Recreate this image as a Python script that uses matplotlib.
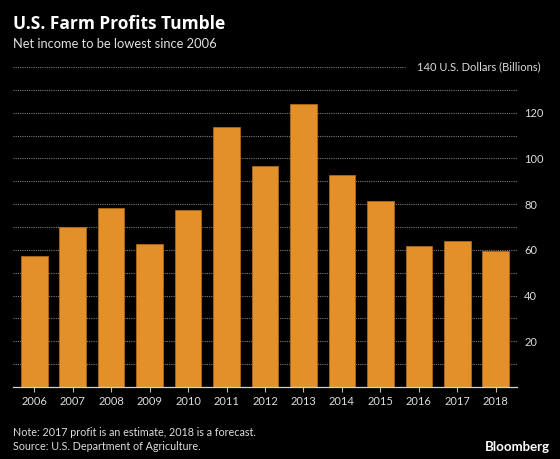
import matplotlib.pyplot as plt

years = ['2006', '2007', '2008', '2009', '2010', '2011', '2012',
         '2013', '2014', '2015', '2016', '2017', '2018']
income = [57.4, 70.0, 78.2, 62.5, 77.3, 113.7, 96.6, 124.0, 92.6, 81.2, 61.6, 63.8, 59.5]
grid_vals = [10, 20, 30, 40, 50, 60, 70, 80, 90, 100, 110, 120, 130]
ytick_vals = [20, 40, 60, 80, 100, 120]

plt.rcParams['font.family'] = ['Lato', 'DejaVu Sans']

fig = plt.figure(figsize=(5.6, 4.59), dpi=100, facecolor='black')
ax = fig.add_axes([0.0238, 0.157, 0.8988, 0.697])
ax.set_facecolor('black')

# dotted grid, the top line stops before the unit label
for g in grid_vals:
    ax.axhline(g, color='#7a7a7a', linestyle=(0, (1, 1)), linewidth=0.8, zorder=0)
ax.axhline(140, xmax=0.778, color='#7a7a7a', linestyle=(0, (1, 1)), linewidth=0.8, zorder=0)

x = range(len(years))
ax.bar(x, income, width=0.69, color='#E3902A', edgecolor='#B86E1A', linewidth=0.5, zorder=2)

ax.set_xlim(-0.545, len(years) - 1 + 0.545)
ax.set_ylim(0, 140)

for s in ['top', 'left', 'right']:
    ax.spines[s].set_visible(False)
ax.spines['bottom'].set_color('#d0d0d0')
ax.spines['bottom'].set_linewidth(0.9)

ax.set_xticks(list(x))
ax.set_xticklabels(years)
ax.tick_params(axis='x', colors='#bbbbbb', length=3.5, width=0.8, pad=3,
               labelsize=8, labelcolor='#dddddd')

ax.yaxis.tick_right()
ax.set_yticks(ytick_vals)
ax.set_yticklabels([str(v) for v in ytick_vals])
ax.tick_params(axis='y', length=0, pad=5.5, labelsize=8, labelcolor='#dddddd')

fig.text(0.966, 1 - 67 / 459, '140 U.S. Dollars (Billions)', ha='right', va='center',
         fontsize=8, color='#dddddd')

fig.text(0.024, 1 - 29 / 459, 'U.S. Farm Profits Tumble', ha='left', va='baseline',
         fontsize=12.5, fontweight='bold', color='white', family=['Open Sans', 'DejaVu Sans'])
fig.text(0.024, 1 - 48 / 459, 'Net income to be lowest since 2006', ha='left', va='baseline',
         fontsize=9.3, color='#e0e0e0')

fig.text(0.024, 1 - 432 / 459, 'Note: 2017 profit is an estimate, 2018 is a forecast.',
         ha='left', va='center', fontsize=7.75, color='#dddddd')
fig.text(0.024, 1 - 447 / 459, 'Source: U.S. Department of Agriculture.',
         ha='left', va='center', fontsize=7.75, color='#dddddd')
fig.text(0.982, 1 - 447 / 459, 'Bloomberg', ha='right', va='center',
         fontsize=9.5, fontweight='bold', color='white')

fig.savefig('out.png', dpi=100, facecolor='black')
